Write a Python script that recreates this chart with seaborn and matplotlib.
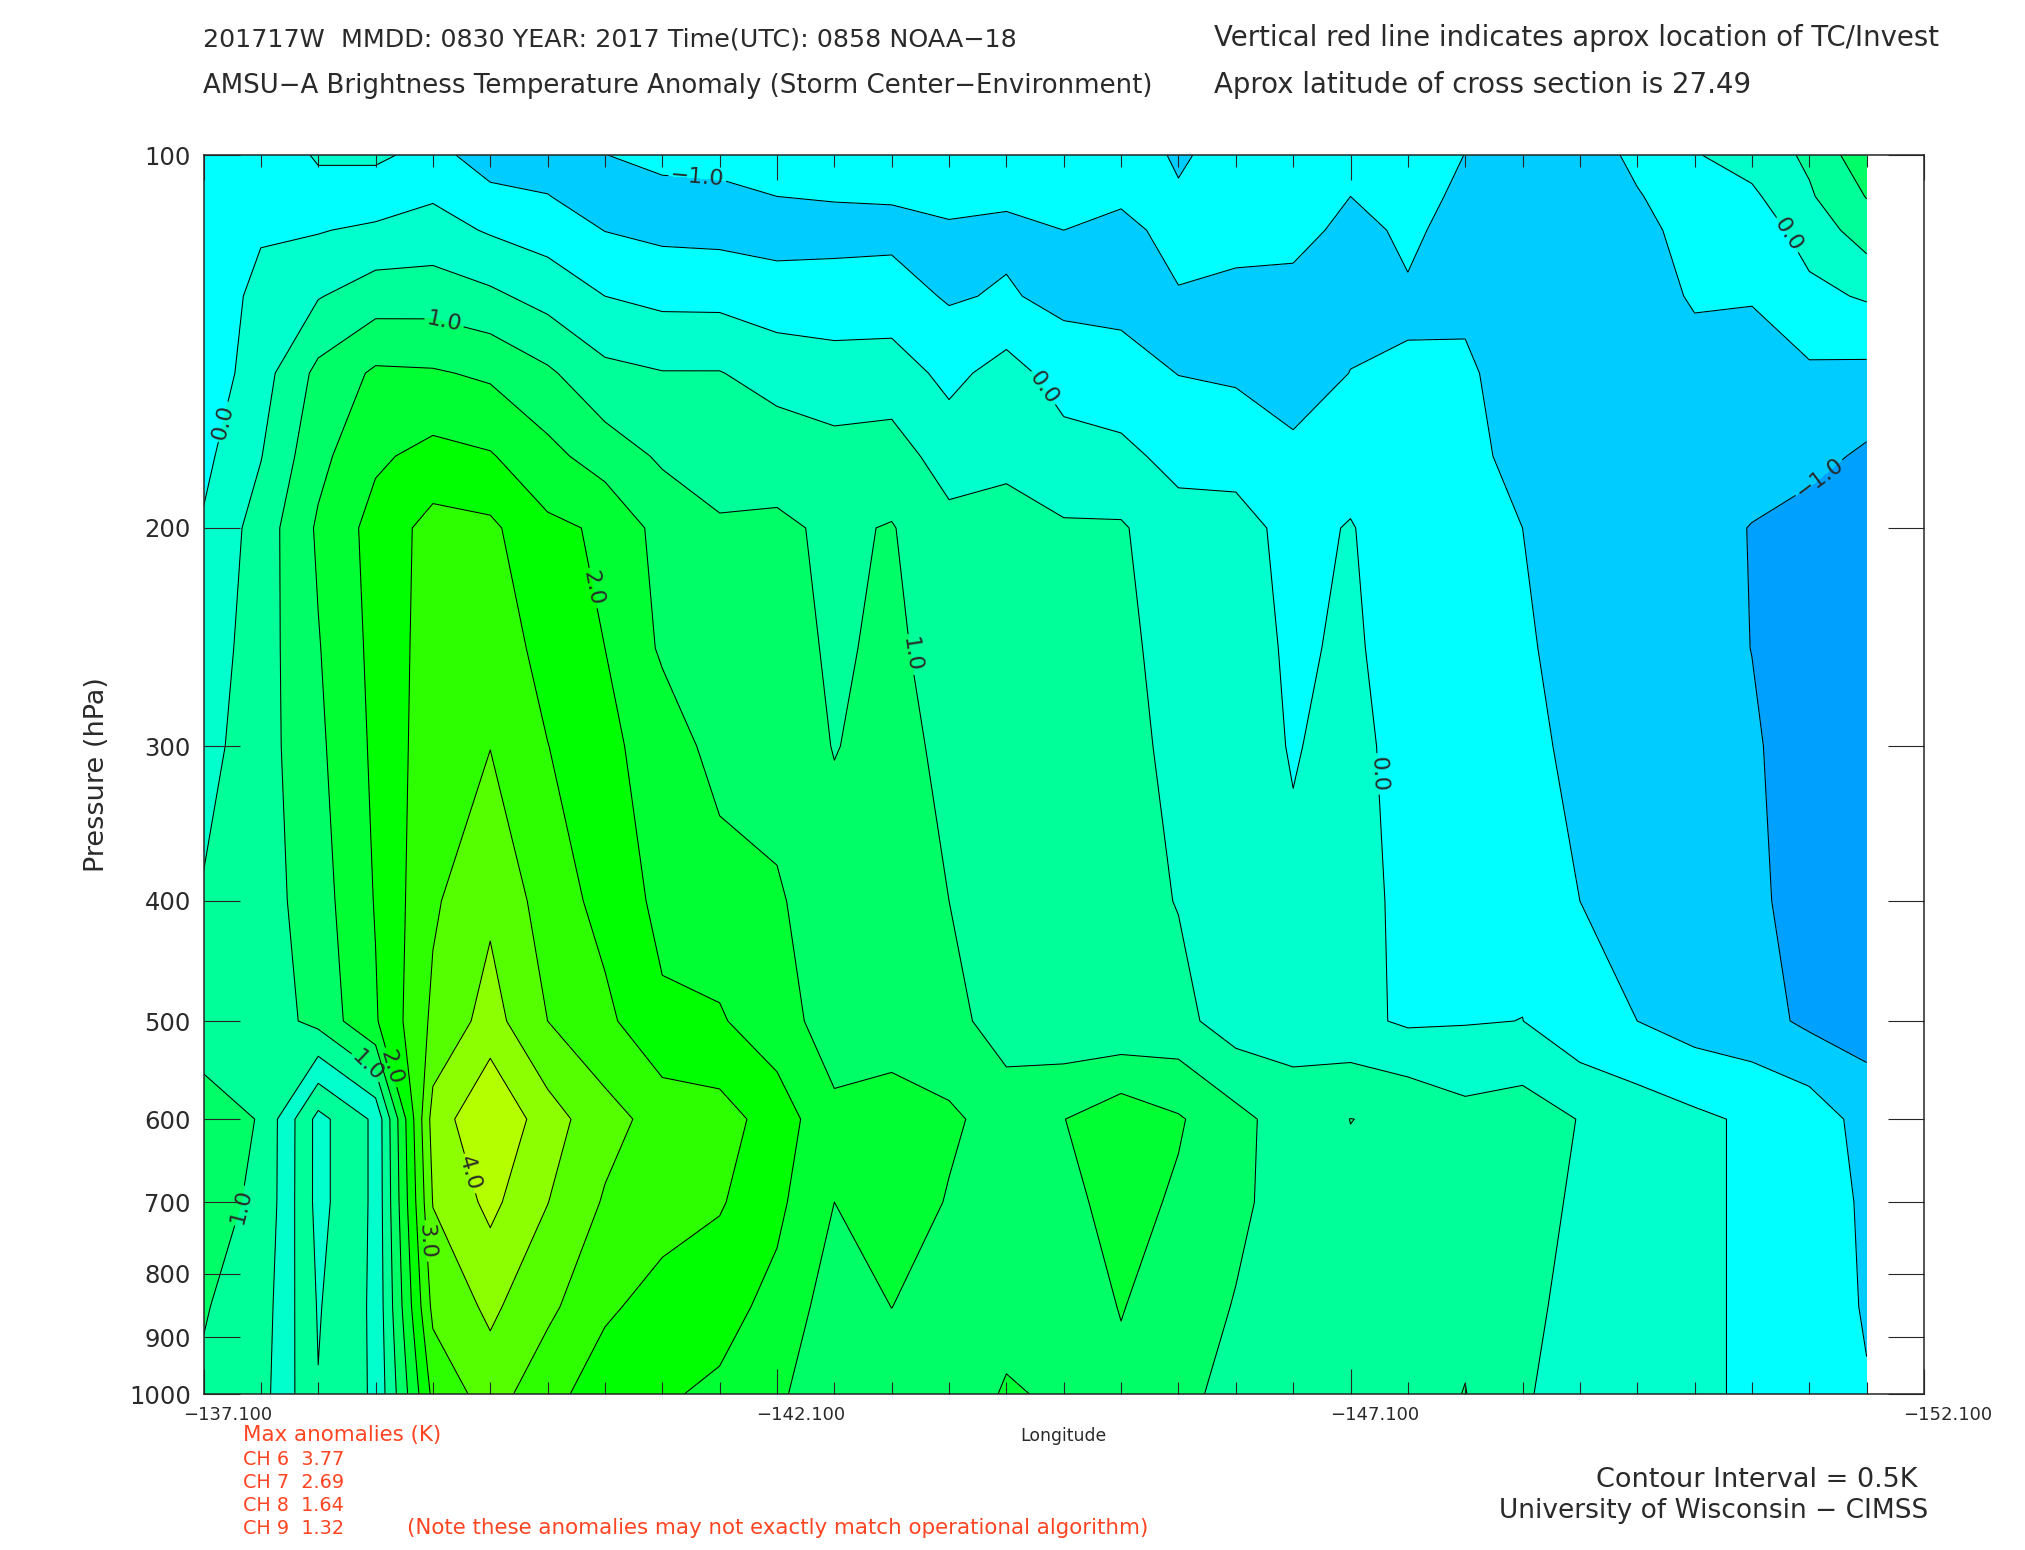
import numpy as np
import matplotlib
matplotlib.use("Agg")
import matplotlib.pyplot as plt
from matplotlib.transforms import ScaledTranslation
import seaborn as sns

# pressure rows (hPa)
pressure = [100, 108, 115, 130, 150, 175, 200, 250, 300, 400, 500, 600, 700, 850, 1000]
# longitudes of the cross-section columns
longitude = [-137.1, -137.6, -138.1, -138.6, -139.1, -139.6, -140.1, -140.6, -141.1, -141.6,
             -142.1, -142.6, -143.1, -143.6, -144.1, -144.6, -145.1, -145.6, -146.1, -146.6,
             -147.1, -147.6, -148.1, -148.6, -149.1, -149.6, -150.1, -150.6, -151.1, -151.6]

# brightness temperature anomaly (K) per longitude column, top row to bottom row
c00 = [-.3, -.28, -.25, -.25, -.35, -.12, .05, .21, .33, .54, .71, 1.25, 1.1, 1.03, .94]
c01 = [-.3, -.12, -.04, .11, .29, .48, .72, .76, .78, .76, .72, .97, .95, .78, .70]
c02 = [.05, -.15, -.03, .47, 1.13, 1.36, 1.57, 1.47, 1.4, 1.28, 1.15, -.66, -.66, -.54, -.48]
c03 = [.1, -.3, .1, .76, 1.58, 1.92, 2.18, 2.14, 2.1, 2.03, 1.95, .1, .1, .1, .08]
c04 = [-.18, -.05, .19, .77, 1.55, 2.15, 2.68, 2.74, 2.8, 2.93, 3.1, 3.7, 3.52, 3.13, 2.62]
c05 = [-.98, -.25, -.05, .6, 1.42, 2.04, 2.6, 2.82, 2.99, 3.4, 3.7, 4.49, 4.13, 3.6, 3.24]
c06 = [-.8, -.48, -.22, .32, 1.08, 1.65, 2.1, 2.31, 2.51, 2.78, 3.0, 3.72, 3.51, 3.12, 2.65]
c07 = [-.51, -.8, -.51, 0.0, .63, 1.26, 1.93, 2.0, 2.12, 2.33, 2.62, 3.18, 2.95, 2.57, 2.27]
c08 = [-.3, -.71, -.62, -.13, .52, .93, 1.31, 1.43, 1.77, 1.87, 2.08, 2.81, 2.68, 2.34, 2.05]
c09 = [-.2, -.71, -.65, -.14, .52, .81, 1.05, 1.2, 1.32, 1.72, 2.05, 2.7, 2.55, 2.17, 1.92]
c10 = [-.2, -.5, -.7, -.27, .3, .8, 1.08, 1.2, 1.3, 1.56, 1.7, 2.28, 2.11, 1.86, 1.6]
c11 = [-.15, -.47, -.65, -.3, .22, .66, .92, .93, .98, 1.2, 1.28, 1.6, 1.5, 1.24, 1.1]
c12 = [-.15, -.46, -.62, -.3, .25, .7, 1.03, 1.1, 1.17, 1.25, 1.28, 1.7, 1.75, 1.505, 1.25]
c13 = [-.15, -.35, -.57, -.55, -.14, .3, .63, .78, .88, 1.0, 1.2, 1.57, 1.47, 1.25, 1.15]
c14 = [-.15, -.42, -.6, -.45, .2, .45, .58, .62, .66, .7, .71, 1.33, 1.32, 1.3, 1.56]
c15 = [-.15, -.32, -.5, -.63, -.22, .2, .55, .6, .6, .6, .62, 1.49, 1.36, 1.25, 1.41]
c16 = [-.1, -.43, -.62, -.65, -.31, .12, .55, .62, .65, .68, .57, 1.83, 1.68, 1.52, 1.4]
c17 = [-.6, -.42, -.35, -.53, -.51, -.15, .19, .3, .38, .48, .65, 1.55, 1.43, 1.28, 1.1]
c18 = [-.2, -.25, -.3, -.65, -.57, -.17, .17, .2, .2, .22, .25, 1.15, 1.12, .97, .88]
c19 = [-.3, -.32, -.35, -.65, -.8, -.36, -.145, -.07, -.03, .08, .28, .75, .75, .72, .72]
c20 = [-.3, -.5, -.62, -.68, -.49, -.2, .03, .07, .15, .12, .13, 1.005, .92, .85, .85]
c21 = [-.3, -.37, -.43, -.54, -.47, -.38, -.3, -.2, -.18, -.08, -.07, .93, .9, .85, .8]
c22 = [-.505, -.576, -.64, -.6, -.42, -.35, -.3, -.22, -.18, -.1, -.03, .66, .8, .9, 1.014]
c23 = [-.7, -.72, -.72, -.74, -.74, -.66, -.5, -.42, -.32, -.15, .005, .76, .7, .62, .55]
c24 = [-.85, -.82, -.8, -.85, -.85, -.82, -.78, -.72, -.66, -.5, -.35, .48, .42, .35, .3]
c25 = [-.35, -.545, -.7, -.8, -.85, -.9, -.88, -.85, -.8, -.7, -.5, .275, .28, .25, .22]
c26 = [-.03, -.15, -.25, -.43, -.75, -.95, -.9, -.85, -.85, -.8, -.72, .1, .1, .1, .1]
c27 = [.2, -.09, -.28, -.47, -.7, -.88, -1.01, -1.005, -.95, -.9, -.8, -.08, -.08, -.08, -.08]
c28 = [.59, .44, .2, -.12, -.58, -.85, -1.2, -1.22, -1.2, -1.19, -1.1, -.2, -.22, -.25, -.25]
c29 = [1.34, 1.02, .75, .05, -.62, -1.08, -1.38, -1.45, -1.45, -1.4, -1.22, -.7, -.58, -.54, -.47]
columns = [c00, c01, c02, c03, c04, c05, c06, c07, c08, c09, c10, c11, c12, c13, c14,
           c15, c16, c17, c18, c19, c20, c21, c22, c23, c24, c25, c26, c27, c28, c29]

# filled bands
band_edges = [-2, -1, -.5, 0, .5, 1, 1.5, 2, 2.5, 3, 3.5, 4, 5]
band_colors = ["#00a0ff", "#00ccff", "#00ffff", "#00ffcc", "#00ff99", "#00ff66",
               "#00ff33", "#00ff00", "#2dff00", "#55ff00", "#8cff00", "#b4ff00"]
line_levels = [-1, -.5, 0, .5, 1, 1.5, 2, 2.5, 3, 3.5, 4]

# the cold pit near -138.1 is painted with these two colours in the source
pit_edges = [-2, -.5, 0]
pit_colors = ["#00ffcc", "#00ff99"]

# contour labels: level -> text and (longitude, pressure) of each label
label_spots = {
    -1.0: ("\u22121.0", [(-151.08, 177)]),
    -0.5: ("\u22121.0", [(-141.41, 103)]),
    0.0: ("0.0", [(-137.25, 164), (-144.47, 153), (-147.31, 316), (-150.91, 116)]),
    1.0: ("1.0", [(-139.21, 135), (-143.38, 252), (-137.32, 700), (-138.56, 539)]),
    2.0: ("2.0", [(-140.56, 223), (-138.76, 544)]),
    3.0: ("3.0", [(-139.08, 752)]),
    4.0: ("4.0", [(-139.44, 663)]),
}

y_ticks = [100, 200, 300, 400, 500, 600, 700, 800, 900, 1000]
x_major = [-137.1, -142.1, -147.1, -152.1]
x_major_labels = ["\u2212137.100", "\u2212142.100", "\u2212147.100", "\u2212152.100"]

max_anomalies = ["CH 6  3.77", "CH 7  2.69", "CH 8  1.64", "CH 9  1.32"]

sns.set_theme(style="ticks")
plt.rcParams["font.family"] = ["DejaVu Sans"]
plt.rcParams["axes.linewidth"] = 1.1

W, H = 2025, 1550
ink = "#2a2a2a"
fig = plt.figure(figsize=(W / 100, H / 100), dpi=100, facecolor="white")
ax = fig.add_axes([203.5 / W, 1 - 1394 / H, (1924 - 203.5) / W, (1394 - 155) / H])
ax.set_axisbelow(False)

Z = np.column_stack(columns)
X = np.array(longitude)
Y = np.log10(pressure)

palette = sns.color_palette(band_colors)
ax.contourf(X, Y, Z, levels=band_edges, colors=palette, antialiased=False)
ax.contourf(X[1:4], Y[10:], Z[10:, 1:4], levels=pit_edges,
            colors=sns.color_palette(pit_colors), antialiased=False)

for lev in line_levels:
    cs = ax.contour(X, Y, Z, levels=[lev], colors="black", linewidths=0.75,
                    linestyles="solid")
    if lev in label_spots:
        txt, spots = label_spots[lev]
        pts = [(lon, np.log10(p)) for lon, p in spots]
        ax.clabel(cs, manual=pts, fmt={lev: txt}, fontsize=16, colors=ink,
                  inline=True, inline_spacing=3)

ax.set_xlim(-137.1, -152.1)
ax.set_ylim(3, 2)
ax.set_yticks(np.log10(y_ticks))
ax.set_yticklabels([str(v) for v in y_ticks], fontsize=17.5, color=ink)
ax.tick_params(axis="y", which="major", direction="in", length=26, width=0.8,
               left=True, right=True, pad=9)
ax.set_xticks(x_major)
ax.set_xticklabels(x_major_labels, fontsize=13, color=ink)
ax.set_xticks(np.arange(-137.1, -152.11, -0.5), minor=True)
ax.tick_params(axis="x", which="major", direction="in", length=18, width=0.8,
               top=True, bottom=True, pad=9)
ax.tick_params(axis="x", which="minor", direction="in", length=8.6, width=0.8,
               top=True, bottom=True)
shift = ScaledTranslation(24 / 100, 0, fig.dpi_scale_trans)
for lab in ax.get_xticklabels():
    lab.set_transform(lab.get_transform() + shift)

ax.set_ylabel("Pressure (hPa)", fontsize=19.5, color=ink, labelpad=20)
ax.set_xlabel("Longitude", fontsize=12.4, color=ink, labelpad=1.5)
ax.yaxis.set_label_coords((110 - 203.5) / (1924 - 203.5), 0.5)


def put(x, y, s, size, color=ink, ha="left"):
    fig.text(x / W, 1 - y / H, s, fontsize=size, color=color, ha=ha, va="baseline")


put(203, 46, "201717W  MMDD: 0830 YEAR: 2017 Time(UTC): 0858 NOAA\u221218", 18.3)
put(203, 93, "AMSU\u2212A Brightness Temperature Anomaly (Storm Center\u2212Environment)", 18.7)
put(1214, 46, "Vertical red line indicates aprox location of TC/Invest", 19.8)
put(1214, 93, "Aprox latitude of cross section is 27.49", 19.9)

red = "#ff4422"
put(243, 1441, "Max anomalies (K)", 15.4, red)
for text, base in zip(max_anomalies, [1465, 1488, 1511, 1534]):
    put(243, base, text, 13.8, red)
put(407, 1534, "(Note these anomalies may not exactly match operational algorithm)", 15.4, red)

put(1917, 1487, "Contour Interval = 0.5K", 19.5, ha="right")
put(1928, 1518, "University of Wisconsin \u2212 CIMSS", 19, ha="right")

fig.savefig("out.png", dpi=100, facecolor="white")
